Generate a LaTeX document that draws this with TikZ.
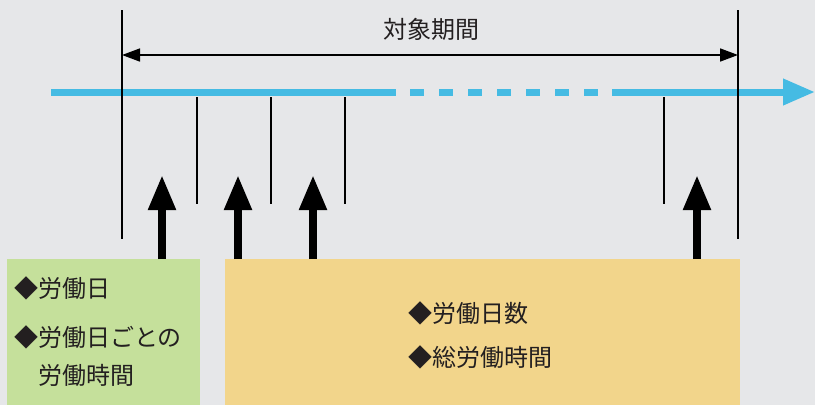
\documentclass[tikz,border=0pt]{standalone}
\usepackage{fontspec}
\setmainfont{Noto Sans CJK JP}
\usetikzlibrary{arrows.meta}
\definecolor{bgc}{HTML}{E6E7E9}
\definecolor{bluec}{HTML}{45BBE3}
\definecolor{greenc}{HTML}{C5E09B}
\definecolor{yellowc}{HTML}{F2D58B}
\definecolor{txtc}{HTML}{231F20}
\begin{document}
\begin{tikzpicture}[x=1pt,y=-1pt,
  lbl/.style={inner sep=0pt,font=\fontsize{24pt}{28pt}\selectfont,text=txtc},
  itemtxt/.style={lbl,anchor=west},
  boxnode/.style={draw=none,anchor=north west,minimum height=146pt,inner sep=0pt},
  tick/.style={line width=2pt,black},
  timeline/.style={line width=7pt,bluec},
  bigarrow/.style={line width=8pt,-{Triangle[length=35pt,width=26pt]}},
  spanarrow/.style={line width=1.6pt,{Triangle[length=18pt,width=13pt]}-{Triangle[length=18pt,width=13pt]}}]
\useasboundingbox (0,0) rectangle (815,405);
\fill[bgc] (0,0) rectangle (815,405);
% timeline
\coordinate (t0) at (51,92);
\coordinate (t1) at (396,92);
\coordinate (d0) at (410,92);
\coordinate (d1) at (598,92);
\coordinate (s0) at (612,92);
\coordinate (s1) at (815,92);
\draw[timeline] (t0) -- (t1);
\draw[timeline,dash pattern=on 14pt off 15pt] (d0) -- (d1);
\draw[timeline,-{Triangle[length=32pt,width=25pt]}] (s0) -- (s1);
% long ticks
\coordinate (L0) at (122,10);
\coordinate (L1) at (122,239);
\coordinate (R0) at (738,10);
\coordinate (R1) at (738,239);
\draw[tick] (L0) -- (L1);
\draw[tick] (R0) -- (R1);
% short ticks
\foreach \i/\x in {1/197,2/271,3/345,4/664}{
  \coordinate (k\i a) at (\x,97);
  \coordinate (k\i b) at (\x,204);
  \draw[tick] (k\i a) -- (k\i b);
}
% span arrow
\coordinate (pa) at (122,55);
\coordinate (pb) at (738,55);
\draw[spanarrow] (pa) -- (pb);
\node[lbl] (title) at (431,29) {対象期間};
% boxes
\node[boxnode,fill=greenc,minimum width=193pt] (g) at (7,259) {};
\node[boxnode,fill=yellowc,minimum width=515pt] (y) at (225,259) {};
% arrows
\coordinate (a1) at (162,175);
\coordinate (a2) at (238,175);
\coordinate (a3) at (313,175);
\coordinate (a4) at (697,175);
\draw[bigarrow] (g.north -| a1) -- (a1);
\draw[bigarrow] (y.north -| a2) -- (a2);
\draw[bigarrow] (y.north -| a3) -- (a3);
\draw[bigarrow] (y.north -| a4) -- (a4);
% texts
\node[itemtxt] (g1) at (14,288) {◆労働日};
\node[itemtxt] (g2) at (14,337) {◆労働日ごとの};
\node[itemtxt] (g3) at (38,375) {労働時間};
\node[itemtxt] (y1) at (408,313) {◆労働日数};
\node[itemtxt] (y2) at (408,357) {◆総労働時間};
\end{tikzpicture}
\end{document}
